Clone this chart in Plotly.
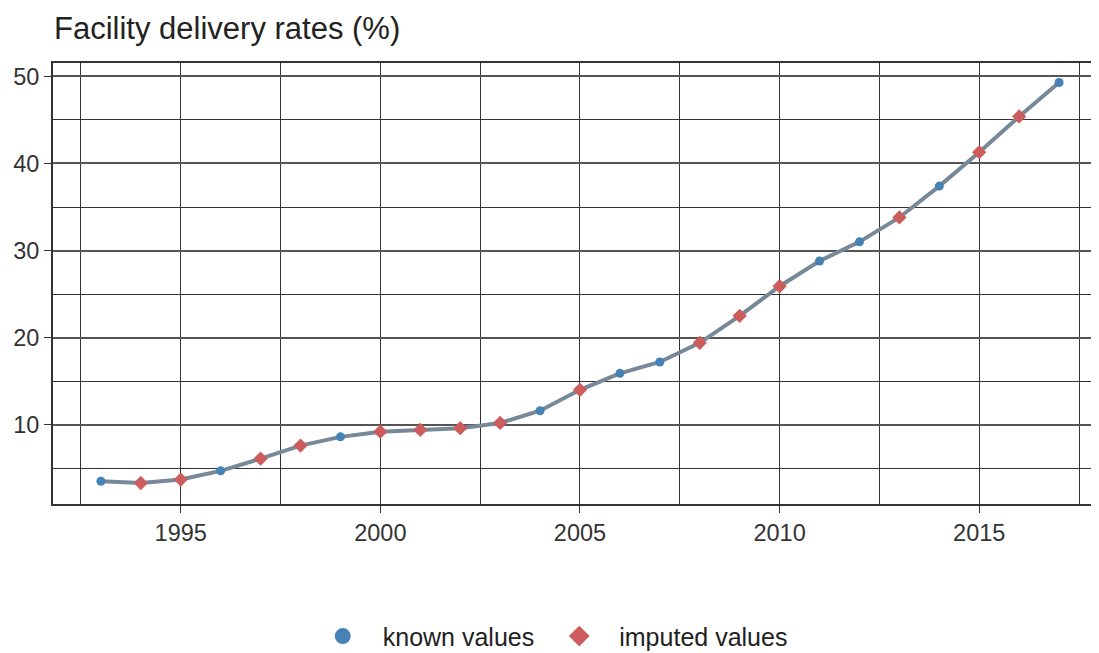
import plotly.graph_objects as go

years = list(range(1993, 2018))
rates = [3.5, 3.3, 3.7, 4.7, 6.1, 7.6, 8.6, 9.2, 9.4, 9.6, 10.2, 11.6, 14.0,
         15.9, 17.2, 19.4, 22.5, 25.9, 28.8, 31.0, 33.8, 37.4, 41.3, 45.4, 49.3]
status = ["known", "imputed", "imputed", "known", "imputed", "imputed", "known",
          "imputed", "imputed", "imputed", "imputed", "known", "imputed", "known",
          "known", "imputed", "imputed", "imputed", "known", "known", "imputed",
          "known", "imputed", "imputed", "known"]

title_text = "Facility delivery rates (%)"
x_ticks = [1995, 2000, 2005, 2010, 2015]
y_ticks = [10, 20, 30, 40, 50]

known_x = [y for y, s in zip(years, status) if s == "known"]
known_y = [v for v, s in zip(rates, status) if s == "known"]
imp_x = [y for y, s in zip(years, status) if s == "imputed"]
imp_y = [v for v, s in zip(rates, status) if s == "imputed"]

FONT = "Liberation Sans, Arial, sans-serif"
BLUE = "#4682B4"
RED = "#CD5C5C"

# the page body adds an 8px margin, so the figure is sized to fill the rest
W, H = 1091, 645

fig = go.Figure()
fig.add_trace(go.Scatter(x=years, y=rates, mode="lines",
                         line=dict(color="#778899", width=4),
                         showlegend=False, hoverinfo="skip"))
fig.add_trace(go.Scatter(x=known_x, y=known_y, mode="markers", name="known values",
                         marker=dict(symbol="circle", size=9, color=BLUE),
                         showlegend=False, legendgroup="k"))
fig.add_trace(go.Scatter(x=imp_x, y=imp_y, mode="markers", name="imputed values",
                         marker=dict(symbol="diamond", size=11, color=RED),
                         showlegend=False, legendgroup="i"))
# legend entries (larger keys, no data drawn)
fig.add_trace(go.Scatter(x=[None], y=[None], mode="markers", name="known values",
                         marker=dict(symbol="circle", size=16, color=BLUE),
                         legendgroup="k"))
fig.add_trace(go.Scatter(x=[None], y=[None], mode="markers", name="imputed values",
                         marker=dict(symbol="diamond", size=16, color=RED),
                         legendgroup="i"))

fig.update_layout(
    width=W, height=H,
    margin=dict(l=45, r=0, t=55, b=149, autoexpand=False),
    paper_bgcolor="white", plot_bgcolor="white",
    font=dict(family=FONT, color="#333333", size=23),
    title=dict(text=title_text, x=46/W, xanchor="left", xref="container",
               y=1 - 20/H, yanchor="middle", yref="container",
               font=dict(size=31, color="#222222", family=FONT)),
    legend=dict(orientation="h", x=0.473, xanchor="center", y=-0.30, yanchor="middle",
                font=dict(size=25, color="#222222"), itemsizing="trace", itemwidth=70),
)
fig.update_xaxes(
    range=[1991.8, 2018.0], tickmode="array", tickvals=x_ticks,
    showgrid=True, gridcolor="#333333", gridwidth=1,
    minor=dict(dtick=5, tick0=1992.5, showgrid=True, gridcolor="#333333", gridwidth=1),
    showline=True, linecolor="#333333", linewidth=2, mirror=True,
    ticks="outside", ticklen=7, tickcolor="#333333", tickwidth=1,
    zeroline=False, tickfont=dict(size=23.5, color="#333333"), automargin=False,
)
fig.update_yaxes(
    range=[0.89, 51.54], tickmode="array", tickvals=y_ticks,
    showgrid=True, gridcolor="#555555", gridwidth=1.5,
    minor=dict(dtick=10, tick0=5, showgrid=True, gridcolor="#333333", gridwidth=1),
    showline=True, linecolor="#333333", linewidth=2,
    ticks="outside", ticklen=7, tickcolor="#333333", tickwidth=1,
    zeroline=False, tickfont=dict(size=23.5, color="#333333"), automargin=False,
)

fig.write_html("out.html")
